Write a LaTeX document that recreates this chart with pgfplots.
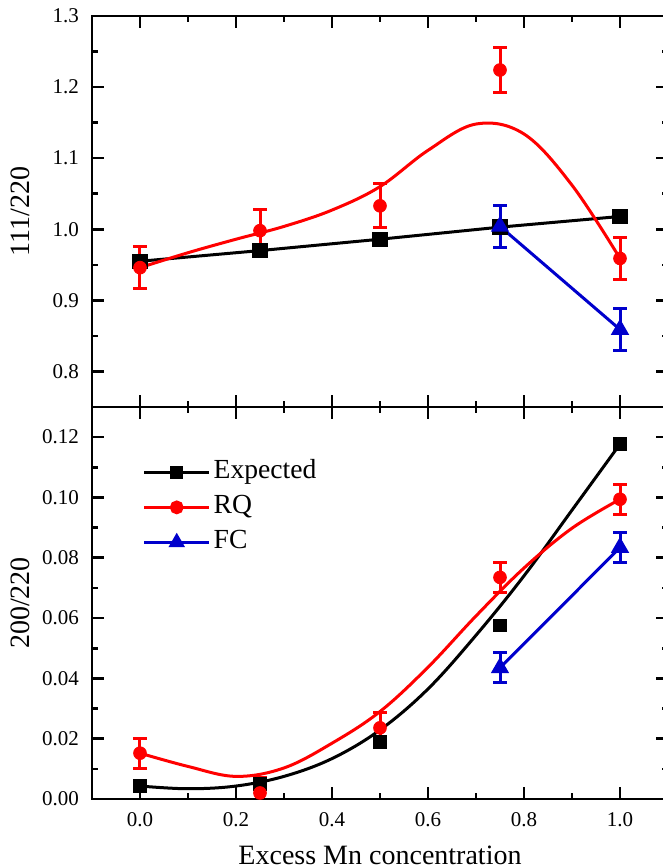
\documentclass[border=0pt]{standalone}
\usepackage{fontspec}
\setmainfont{Liberation Serif}
\usepackage{pgfplots}
\pgfplotsset{compat=1.18}
\definecolor{myred}{RGB}{255,0,0}
\definecolor{myblue}{RGB}{0,0,204}
\pgfplotsset{
 mystyle/.style={
  scale only axis, width=288pt,
  xmin=-0.1, xmax=1.1,
  xtick={0,0.2,0.4,0.6,0.8,1.0},
  minor x tick num=1, minor y tick num=1,
  tick align=inside, xtick pos=both, ytick pos=both,
  major tick length=6pt, minor tick length=3pt,
  every tick/.style={black, line width=1.3pt},
  axis line style={line width=1.3pt},
  tick label style={font=\fontsize{10.5}{12}\selectfont},
  label style={font=\fontsize{14}{16}\selectfont},
  /pgf/number format/assume math mode=true,
  xticklabel style={/pgf/number format/.cd, fixed, fixed zerofill, precision=1},
  xticklabel shift=3pt, yticklabel shift=3pt,
  ylabel style={at={(axis description cs:-0.125,0.5)}, anchor=center},
  clip=true,
 },
 serr/.style={error bars/y dir=both, error bars/y explicit,
   error bars/error bar style={line width=1.5pt},
   error bars/error mark options={rotate=90, line width=1.5pt, mark size=3.5pt}},
}
\begin{document}
\begin{tikzpicture}
% ---------- bottom panel ----------
\begin{axis}[mystyle, name=bot, at={(0,0)}, anchor=south west, height=196pt,
  ymin=0, ymax=0.13, ytick={0,0.02,0.04,0.06,0.08,0.10,0.12},
  yticklabel style={/pgf/number format/.cd, fixed, fixed zerofill, precision=2},
  xlabel={Excess Mn concentration}, ylabel={200/220},
  xlabel style={at={(axis description cs:0.5,-0.168)}, anchor=base},
  legend style={draw=none, fill=none, at={(axis description cs:0.077,0.884)}, anchor=north west,
    font=\fontsize{13.8}{16}\selectfont, row sep=2pt,
    nodes={inner sep=1.5pt, text height=9.5pt, text depth=3pt}},
  legend cell align=left,
  legend image code/.code={\draw[mark repeat=2,mark phase=2,#1] plot coordinates {(0pt,0pt) (16.25pt,0pt) (32.5pt,0pt)};},
]
\addlegendimage{black, line width=1.5pt, mark=square*, mark size=2.5pt}
\addlegendentry{Expected}
\addlegendimage{myred, line width=1.5pt, mark=*, mark size=2.7pt}
\addlegendentry{RQ}
\addlegendimage{myblue, line width=1.5pt, mark=triangle*, mark size=3.3pt}
\addlegendentry{FC}
% Expected smooth curve
\addplot[black, line width=1.5pt, smooth, tension=0.6, forget plot] coordinates {
 (0,0.0043) (0.1,0.0034) (0.2,0.0043) (0.3,0.0075) (0.4,0.0134)
 (0.5,0.0229) (0.6,0.0365) (0.7,0.0543) (0.8,0.0740)
 (0.9,0.0958) (1.0,0.1177)};
\addplot[black, only marks, mark=square*, mark size=3.1pt, forget plot] coordinates {
 (0,0.0043) (0.25,0.0050) (0.5,0.0190) (0.75,0.0575) (1.0,0.1177)};
% RQ smooth curve
\addplot[myred, line width=1.5pt, smooth, tension=0.6, forget plot] coordinates {
 (0,0.0152) (0.1,0.0108) (0.2,0.0075) (0.3,0.0103) (0.4,0.0185)
 (0.5,0.0290) (0.6,0.0437) (0.7,0.0607) (0.8,0.0766)
 (0.9,0.0898) (1.0,0.0994)};
\addplot[myred, only marks, mark=*, mark size=3.2pt, forget plot, serr] coordinates {
 (0,0.0152) +- (0,0.005)
 (0.25,0.0020) +- (0,0.005)
 (0.5,0.0236) +- (0,0.005)
 (0.75,0.0735) +- (0,0.005)
 (1.0,0.0994) +- (0,0.005)};
% FC
\addplot[myblue, line width=1.5pt, mark=triangle*, mark size=3.8pt, forget plot, serr] coordinates {
 (0.75,0.0435) +- (0,0.005)
 (1.0,0.0834) +- (0,0.005)};
\end{axis}
% ---------- top panel ----------
\begin{axis}[mystyle, at={(0,196pt)}, anchor=south west, height=195.5pt,
  ymin=0.75, ymax=1.3, ytick={0.8,0.9,1.0,1.1,1.2,1.3},
  yticklabel style={/pgf/number format/.cd, fixed, fixed zerofill, precision=1},
  xticklabels={}, ylabel={111/220},
]
\addplot[black, line width=1.5pt, mark=square*, mark size=3.1pt] coordinates {
 (0,0.955) (0.25,0.970) (0.5,0.986) (0.75,1.003) (1.0,1.018)};
\addplot[myred, line width=1.5pt, smooth, tension=0.6] coordinates {
 (0,0.946) (0.1,0.967) (0.2,0.986) (0.3,1.004) (0.4,1.027) (0.5,1.060)
 (0.6,1.111) (0.7,1.148) (0.8,1.134) (0.9,1.062) (1.0,0.959)};
\addplot[myred, only marks, mark=*, mark size=3.2pt, serr] coordinates {
 (0,0.946) +- (0,0.030)
 (0.25,0.998) +- (0,0.030)
 (0.5,1.033) +- (0,0.031)
 (0.75,1.224) +- (0,0.031)
 (1.0,0.959) +- (0,0.030)};
\addplot[myblue, line width=1.5pt, mark=triangle*, mark size=3.8pt, serr] coordinates {
 (0.75,1.004) +- (0,0.030)
 (1.0,0.859) +- (0,0.030)};
\end{axis}
\pgfresetboundingbox
\path (-46pt,-34.5pt) rectangle (285.5pt,399.5pt);
\end{tikzpicture}
\end{document}
